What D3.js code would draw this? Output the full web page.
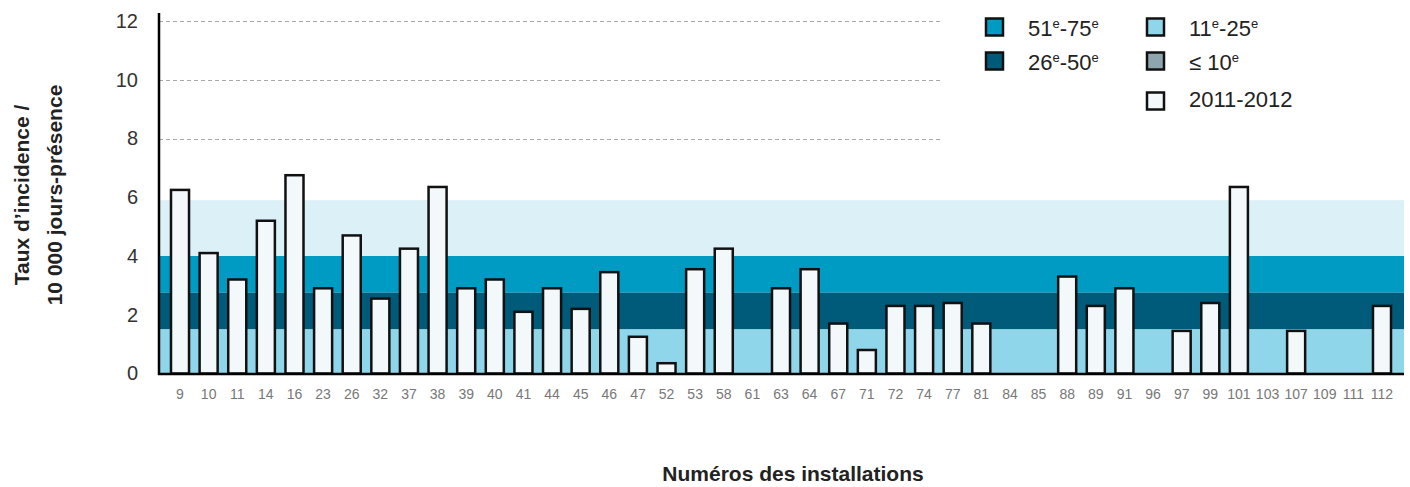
<!DOCTYPE html>
<html>
<head>
<meta charset="utf-8">
<script src="https://cdn.jsdelivr.net/npm/d3@7"></script>
<style>
    body { margin: 0; background: white; }
    svg { display: block; font-family: "Liberation Sans", Arial, sans-serif; }
</style>
</head>
<body>
<svg id="chart" width="1410" height="487"></svg>
<script>
// installations (x categories)
const installations = ["9", "10", "11", "14", "16", "23", "26", "32", "37", "38", "39", "40", "41", "44", "45",
    "46", "47", "52", "53", "58", "61", "63", "64", "67", "71", "72", "74", "77", "81", "84", "85", "88", "89",
    "91", "96", "97", "99", "101", "103", "107", "109", "111", "112"];

// taux 2011-2012 (null = no bar)
const taux = [6.25, 4.1, 3.2, 5.2, 6.75, 2.9, 4.7, 2.55, 4.25, 6.35, 2.9, 3.2, 2.1, 2.9, 2.2,
    3.45, 1.25, 0.35, 3.55, 4.25, null, 2.9, 3.55, 1.7, 0.8, 2.3, 2.3, 2.4, 1.7, null, null, 3.3, 2.3,
    2.9, null, 1.45, 2.4, 6.35, null, 1.45, null, null, 2.3];

// percentile bands (from, to)
const bandNames = ["pale", "51-75", "26-50", "11-25", "le10"];
const bandFrom = [4.0, 2.75, 1.5, 0, 0];
const bandTo = [5.9, 4.0, 2.75, 1.5, 0];
const bandColors = ["#dcf0f7", "#009bc2", "#005a7a", "#8fd6ea", "#8fa5ad"];

const yTicks = [0, 2, 4, 6, 8, 10, 12];
const gridTicks = [8, 10, 12];

const svg = d3.select("#chart");
const plotLeft = 159, plotRight = 1404, plotTop = 13, plotBottom = 374;

const y = d3.scaleLinear().domain([0, 12]).range([373.5, 21]);
const x = d3.scaleBand()
    .domain(installations)
    .range([165.7, 1396.3])
    .paddingInner(0.37)
    .paddingOuter(0.185);

// bands
bandNames.forEach((name, i) => {
    if (bandTo[i] <= bandFrom[i]) return;
    svg.append("rect")
        .attr("x", plotLeft)
        .attr("y", y(bandTo[i]))
        .attr("width", plotRight - plotLeft)
        .attr("height", y(bandFrom[i]) - y(bandTo[i]))
        .attr("fill", bandColors[i]);
});

// dashed gridlines
svg.append("g")
    .selectAll("line")
    .data(gridTicks)
    .enter().append("line")
    .attr("x1", plotLeft)
    .attr("x2", 940)
    .attr("y1", d => Math.round(y(d)) + 0.5)
    .attr("y2", d => Math.round(y(d)) + 0.5)
    .attr("stroke", "#aaa")
    .attr("stroke-width", 1)
    .attr("stroke-dasharray", "4,3");

// bars
const barData = installations.map((d, i) => ({ name: d, value: taux[i] })).filter(d => d.value != null);
svg.append("g")
    .selectAll("rect")
    .data(barData)
    .enter().append("rect")
    .attr("x", d => x(d.name))
    .attr("y", d => y(d.value))
    .attr("width", x.bandwidth())
    .attr("height", d => y(0) - y(d.value))
    .attr("fill", "#f3f8fb")
    .attr("stroke", "#111")
    .attr("stroke-width", 2.5);

// y axis
const yAxis = d3.axisLeft(y).tickValues(yTicks).tickSize(0).tickPadding(0);
const yg = svg.append("g")
    .attr("transform", `translate(138,0)`)
    .call(yAxis);
yg.select(".domain").remove();
yg.selectAll("text")
    .attr("font-size", "20px")
    .attr("fill", "#333")
    .attr("font-family", "Liberation Sans, Arial, sans-serif");

svg.append("line")
    .attr("x1", plotLeft).attr("x2", plotLeft)
    .attr("y1", plotTop).attr("y2", plotBottom + 1)
    .attr("stroke", "#000").attr("stroke-width", 2.5);

// x axis
const xAxis = d3.axisBottom(x).tickSize(0).tickPadding(0);
const xg = svg.append("g")
    .attr("transform", `translate(0,399)`)
    .call(xAxis);
xg.select(".domain").remove();
xg.selectAll("text")
    .attr("dy", "0")
    .attr("font-size", "14px")
    .attr("fill", "#777")
    .attr("font-family", "Liberation Sans, Arial, sans-serif");

svg.append("line")
    .attr("x1", plotLeft - 1).attr("x2", plotRight)
    .attr("y1", plotBottom).attr("y2", plotBottom)
    .attr("stroke", "#000").attr("stroke-width", 2.5);

// axis titles
svg.append("text")
    .attr("x", 793).attr("y", 481)
    .attr("text-anchor", "middle")
    .attr("font-size", "21px")
    .attr("font-weight", "bold")
    .attr("fill", "#222")
    .text("Numéros des installations");

const yTitle = svg.append("text")
    .attr("transform", "translate(0,195) rotate(-90)")
    .attr("text-anchor", "middle")
    .attr("font-size", "21px")
    .attr("font-weight", "bold")
    .attr("fill", "#222");
yTitle.append("tspan").attr("x", 0).attr("y", 29).text("Taux d\u2019incidence /");
yTitle.append("tspan").attr("x", 0).attr("y", 62).text("10 000 jours-présence");

// legend
const legendItems = [
    { color: "#009bc2", parts: [["51", "e"], ["-75", "e"]], col: 0, row: 0 },
    { color: "#005a7a", parts: [["26", "e"], ["-50", "e"]], col: 0, row: 1 },
    { color: "#8fd6ea", parts: [["11", "e"], ["-25", "e"]], col: 1, row: 0 },
    { color: "#8fa5ad", parts: [["\u2264 10", "e"]], col: 1, row: 1 },
    { color: "#f3f8fb", parts: [["2011-2012", ""]], col: 1, row: 2 }
];
const rowY = [27, 61, 101];
const legend = svg.append("g");
legendItems.forEach(item => {
    const lx = item.col === 0 ? 986 : 1147;
    const ly = rowY[item.row];
    legend.append("rect")
        .attr("x", lx).attr("y", ly - 8.5)
        .attr("width", 17).attr("height", 17)
        .attr("fill", item.color)
        .attr("stroke", "#111")
        .attr("stroke-width", 2.5);
    const t = legend.append("text")
        .attr("x", lx + 42).attr("y", item.row === 2 ? ly + 5.5 : ly + 9)
        .attr("font-size", "22px")
        .attr("fill", "#222");
    let raised = false;
    item.parts.forEach(p => {
        t.append("tspan").text(p[0]).attr("dy", raised ? 8 : 0);
        raised = false;
        if (p[1]) {
            t.append("tspan").text(p[1]).attr("font-size", "13px").attr("dy", -8);
            raised = true;
        }
    });
});
</script>
</body>
</html>
